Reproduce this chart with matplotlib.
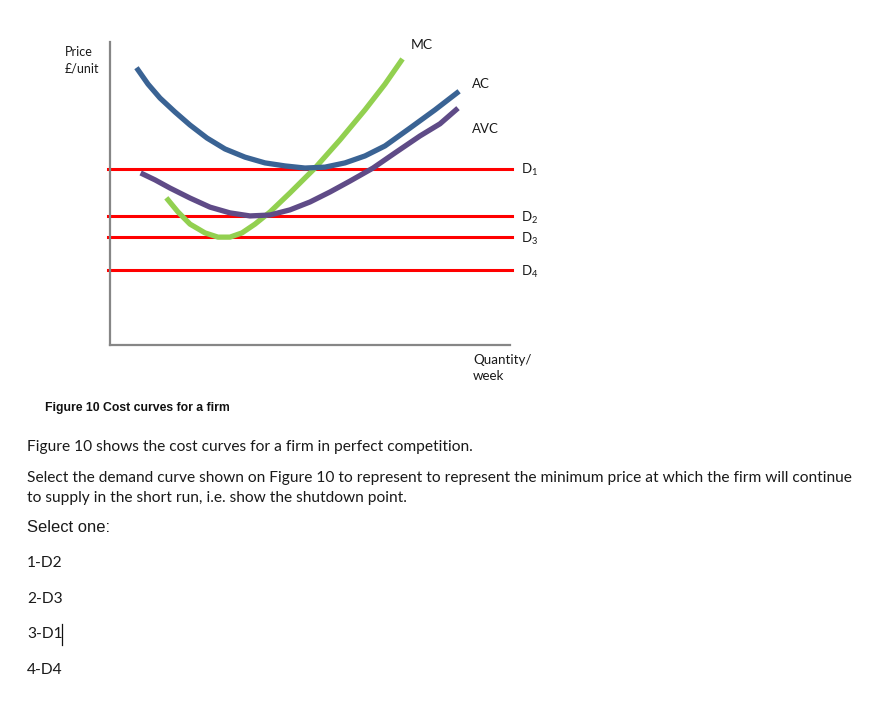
import matplotlib
matplotlib.use("Agg")
import matplotlib.pyplot as plt

# curve readings: quantity (0-100) and price (0-100) on the sketch axes
ac_q = [7, 9.5, 12.5, 16.25, 20, 24.25, 28.75, 33.75, 38.75, 43.75, 48.75,
        53.75, 58.75, 63.75, 68.75, 75, 81.25, 86.75]
ac_p = [90.8, 86.1, 81.5, 76.9, 72.6, 68.3, 64.7, 62.0, 60.1, 59.1, 58.4,
        58.7, 60.1, 62.4, 65.7, 71.6, 77.6, 83.2]

avc_q = [8.25, 11.25, 15, 20, 25, 30, 35, 40, 45, 50, 55, 60, 65.75, 71.25,
         77.5, 82.5, 86.5]
avc_p = [56.4, 54.5, 51.8, 48.5, 45.5, 43.6, 42.6, 42.9, 44.6, 47.2, 50.5,
         54.1, 58.4, 63.4, 69.0, 73.0, 77.6]

mc_q = [14.5, 17, 20, 23.75, 27, 30, 33, 36.25, 40, 45, 51.25, 57.5, 63.75,
        68.75, 72.75]
mc_p = [47.9, 43.9, 39.9, 37.0, 35.6, 35.6, 37.0, 39.9, 43.9, 50.2, 58.4,
        67.7, 77.6, 86.1, 93.7]

demand_names = ["D$_1$", "D$_2$", "D$_3$", "D$_4$"]
demand_prices = [58.1, 42.6, 35.6, 24.8]

question = "Figure 10 shows the cost curves for a firm in perfect competition."
prompt = ["Select the demand curve shown on Figure 10 to represent to represent the minimum price at which the firm will continue",
          "to supply in the short run, i.e. show the shutdown point."]
options = ["1-D2", "2-D3", "3-D1", "4-D4"]

plt.rcParams["mathtext.fontset"] = "custom"
plt.rcParams["mathtext.rm"] = "Lato"
plt.rcParams["mathtext.it"] = "Lato"

W, H = 876, 703
fig = plt.figure(figsize=(W / 100, H / 100), dpi=100)

# page layer in pixel coordinates for the text
page = fig.add_axes([0, 0, 1, 1])
page.set_xlim(0, W)
page.set_ylim(H, 0)
page.axis("off")

# sketch axes: y axis at x=110, x axis at y=345
x0, x1, ytop, ybot = 110, 510, 42, 345
ax = fig.add_axes([x0 / W, 1 - ybot / H, (x1 - x0) / W, (ybot - ytop) / H])
ax.set_xlim(0, 100)
ax.set_ylim(0, 100)
ax.patch.set_alpha(0)
ax.set_xticks([])
ax.set_yticks([])
for s in ["top", "right"]:
    ax.spines[s].set_visible(False)
for s in ["left", "bottom"]:
    ax.spines[s].set_color("#868686")
    ax.spines[s].set_linewidth(1.6)

for p in demand_prices:
    ax.plot([-0.5, 100.5], [p, p], color="#ff0000", lw=2.2, clip_on=False, zorder=1)

ax.plot(ac_q, ac_p, color="#3a6394", lw=3.8, solid_joinstyle="round", zorder=3)
ax.plot(avc_q, avc_p, color="#5f4b87", lw=3.8, solid_joinstyle="round", zorder=3)
ax.plot(mc_q, mc_p, color="#92d050", lw=3.8, solid_joinstyle="round", zorder=2)

lab = dict(family="Lato", color="#1a1a1a")
page.text(65, 60, "Price\n£/unit", fontsize=9, va="center", ha="left", linespacing=1.45, **lab)
page.text(411, 45, "MC", fontsize=10, va="center", **lab)
page.text(472, 84, "AC", fontsize=9.5, va="center", **lab)
page.text(472, 129, "AVC", fontsize=9.5, va="center", **lab)
for name, y in zip(demand_names, [170, 218, 239, 272]):
    page.text(521, y, name, fontsize=9.5, va="center", **lab)
page.text(473, 368, "Quantity/\nweek", fontsize=9.6, va="center", linespacing=1.35, **lab)

page.text(45, 408, "Figure 10 Cost curves for a firm", family="Liberation Sans",
          fontweight="bold", fontsize=8.8, va="center", color="#111111")

body = dict(family="Lato", fontsize=11.2, color="#1a1a1a", va="center", ha="left")
page.text(27, 447, question, **body)
page.text(27, 478, prompt[0], **body)
page.text(27, 498, prompt[1], **body)
page.text(27, 527, "Select one:", family="Liberation Sans", fontsize=11.9,
          color="#1a1a1a", va="center")
for opt, y in zip(options, [563, 599, 634, 670]):
    page.text(27, y, opt, **body)
page.plot([62, 62], [624, 645], color="#111111", lw=0.9)

fig.savefig("out.png", dpi=100)
